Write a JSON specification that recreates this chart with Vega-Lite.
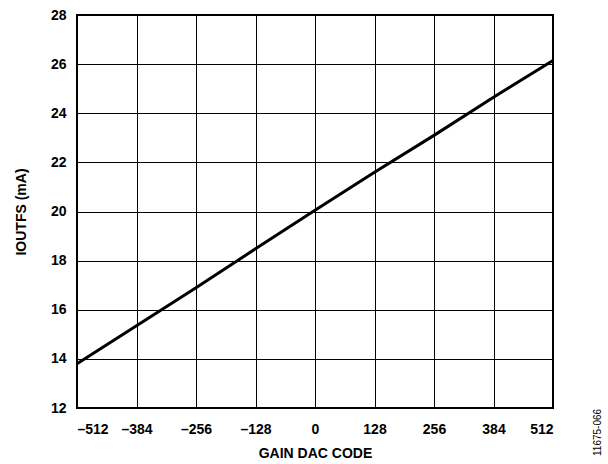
{
  "$schema": "https://vega.github.io/schema/vega-lite/v6.json",
  "width": 476,
  "height": 393,
  "autosize": "none",
  "padding": {"left": 77, "top": 15, "right": 55, "bottom": 56},
  "background": "white",
  "title": {"text": "11675-066", "orient": "right", "anchor": "end", "angle": -90, "align": "left", "fontSize": 10, "fontWeight": "normal", "font": "Liberation Sans", "color": "black", "offset": 29, "dx": 4, "baseline": "middle"},
  "config": {
    "view": {"stroke": "black", "strokeWidth": 2},
    "font": "Liberation Sans",
    "axis": {
      "grid": true, "gridColor": "black", "gridOpacity": 1, "gridWidth": 1,
      "domain": false, "ticks": false,
      "labelFont": "Liberation Sans", "labelFontWeight": "bold", "labelFontSize": 14, "labelColor": "black",
      "titleFont": "Liberation Sans", "titleFontWeight": "bold", "titleFontSize": 14, "titleColor": "black"
    }
  },
  "data": {"values": [
    {"code": -512, "i": 13.8},
    {"code": -384, "i": 15.35},
    {"code": -256, "i": 16.9},
    {"code": -128, "i": 18.48},
    {"code": 0, "i": 20.05},
    {"code": 128, "i": 21.6},
    {"code": 256, "i": 23.1},
    {"code": 384, "i": 24.65},
    {"code": 512, "i": 26.15}
  ]},
  "mark": {"type": "line", "color": "black", "strokeWidth": 3},
  "encoding": {
    "x": {"field": "code", "type": "quantitative", "scale": {"domain": [-512, 512], "nice": false},
      "axis": {"values": [-512, -384, -256, -128, 0, 128, 256, 384, 512], "title": "GAIN DAC CODE", "labelPadding": 14, "titlePadding": 10,
        "labelExpr": "replace(datum.label, '\u2212', '\u2013')"}},
    "y": {"field": "i", "type": "quantitative", "scale": {"domain": [12, 28], "nice": false, "zero": false},
      "axis": {"values": [12, 14, 16, 18, 20, 22, 24, 26, 28], "title": "IOUTFS (mA)", "labelPadding": 11, "titlePadding": 22}}
  }
}
